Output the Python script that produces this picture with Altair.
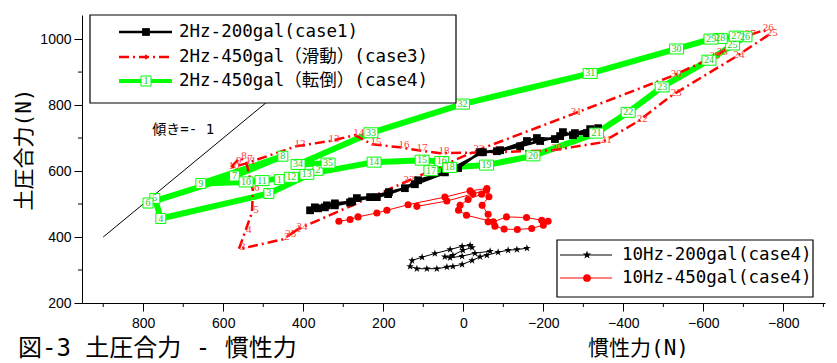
import altair as alt
import pandas as pd

# ---------------- axis ticks ----------------
x_ticks = [800, 600, 400, 200, 0, -200, -400, -600, -800]
x_minor = [900, 700, 500, 300, 100, -100, -300, -500, -700, -900]
y_ticks = [200, 400, 600, 800, 1000]
y_minor = [300, 500, 700, 900]

# ---------------- 2Hz-450gal (転倒)(case4) : green, numbered 1..35 ----------------
case4_x = [460, 363, 486, 756, 771, 788, 572, 451, 656, 543, 503, 430, 391, 223, 103, 54, 81, 34,
           -58, -174, -333, -412, -497, -614, -673, -704, -682, -642, -619, -533, -317, 2, 231, 413, 338]
case4_y = [574, 602, 532, 456, 517, 503, 585, 645, 562, 567, 571, 581, 590, 627, 633, 629, 601, 611,
           618, 646, 715, 778, 855, 936, 982, 1007, 1009, 1002, 1000, 970, 896, 803, 716, 620, 624]

# ---------------- 2Hz-450gal (滑動)(case3) : red dash-dot, numbered 1..35 ----------------
case3_x = [421, 451, 561, 546, 528, 526, 543, 558, 571, 583, 541, 418, 333, 271, 228, 158, 113, 58,
           -79, -224, -347, -437, -522, -679, -762, -752, -707, -637, -619, -522, -272, -29, 146, 413, 441]
case3_y = [417, 393, 363, 414, 475, 542, 630, 639, 624, 609, 624, 675, 691, 709, 681, 672, 663, 654,
           657, 663, 687, 751, 830, 945, 1012, 1027, 1009, 954, 942, 888, 772, 660, 566, 424, 402]

# ---------------- 2Hz-200gal(case1) : black squares ----------------
case1_x = [383, 363, 341, 321, 278, 266, 216, 188, 121, 13, -42, -92, -159, -184, -229, -249, -274, -309, -337,
           -317, -279, -242, -192, -142, -84, -49, 46, 113, 146, 186, 233, 283, 321, 346, 371]
case1_y = [481, 487, 496, 502, 508, 518, 521, 530, 560, 609, 657, 663, 691, 700, 697, 718, 709, 715, 730,
           727, 715, 706, 691, 675, 660, 657, 596, 572, 548, 536, 521, 505, 496, 490, 490]

# ---------------- 10Hz-200gal(case4) : black stars ----------------
hz10a_x = [-159, -134, -112, -87, -59, -42, -22, 3, 26, 41, 66, 91, 116, 133, 128, 103, 71, 33, 3, -17,
           -22, 1, 26, 46, 33, 3, -29, -67]
hz10a_y = [366, 362, 360, 354, 345, 340, 329, 317, 311, 309, 304, 304, 304, 311, 329, 339, 350, 362, 372, 375,
           368, 360, 345, 340, 337, 342, 351, 357]

# ---------------- 10Hz-450gal(case4) : red circles ----------------
hz10b_x = [311, 283, 263, 216, 191, 138, 46, -17, -59, -64, -47, -62, -62, -79, -102, -135, -171, -200,
           -212, -196, -158, -108, -75, -8, 12, 8, -12, -46, -58, -24, 41, 116]
hz10b_y = [448, 453, 461, 473, 481, 498, 521, 540, 547, 522, 496, 469, 446, 433, 424, 423, 426, 436,
           448, 451, 459, 461, 446, 466, 481, 496, 514, 530, 542, 531, 509, 493]

# slope reference line (傾き = -1)
slope_start = (900, 400)
slope_end = (450, 850)
slope_text_pos = (700, 724)

legend1 = ["2Hz-200gal(case1)", "2Hz-450gal（滑動）(case3)", "2Hz-450gal（転倒）(case4)"]
legend2 = ["10Hz-200gal(case4)", "10Hz-450gal(case4)"]

GREEN = "#00ff00"
RED = "#ff0000"
JP = "DejaVu Sans Mono, Noto Sans CJK JP"
SERIF = "Liberation Serif"
SANS = "Liberation Sans"
STAR = "M0,-1L0.2245,-0.309L0.951,-0.309L0.363,0.118L0.588,0.809L0,0.382L-0.588,0.809L-0.363,0.118L-0.951,-0.309L-0.2245,-0.309Z"
BOX1 = "M-1,-1H1V1H-1Z"
BOX2 = "M-1.4,-1H1.4V1H-1.4Z"

W, H = 743, 288

xscale = alt.Scale(domain=[-904, 953], reverse=True, nice=False, zero=False)
yscale = alt.Scale(domain=[200, 1073], nice=False, zero=False)
xaxis = alt.Axis(values=x_ticks, format="d", title="慣性力(N)", grid=False, tickSize=8, tickColor="black",
                 domainColor="black", labelColor="black", labelFont=SANS, labelFontSize=14,
                 labelPadding=5, labelFlush=False, labelOverlap=False,
                 titleFont=JP, titleFontSize=21, titleFontWeight="normal", titleColor="black",
                 titleX=556, titleY=45, titleAlign="center", titleBaseline="middle")
yaxis = alt.Axis(values=y_ticks, format="d", title="土圧合力(N)", grid=False, tickSize=8, tickColor="black",
                 domainColor="black", labelColor="black", labelFont=SANS, labelFontSize=14,
                 labelPadding=3, labelFlush=False, labelOverlap=False,
                 titleFont=JP, titleFontSize=21, titleFontWeight="normal", titleColor="black",
                 titleX=-58, titleY=134, titleAngle=270, titleAlign="center", titleBaseline="middle")


def X(f="x"):
    return alt.X(f"{f}:Q", scale=xscale, axis=xaxis)


def Y(f="y"):
    return alt.Y(f"{f}:Q", scale=yscale, axis=yaxis)


def frame(xs, ys):
    return pd.DataFrame({"x": xs, "y": ys, "i": list(range(len(xs))),
                         "lab": [str(k + 1) for k in range(len(xs))]})


g = frame(case4_x, case4_y)
r = frame(case3_x, case3_y)
b = frame(case1_x, case1_y)
s = frame(hz10a_x, hz10a_y)
c = frame(hz10b_x, hz10b_y)
one = pd.DataFrame({"d": [0]})

layers = []

# slope line and its annotation
sl = pd.DataFrame({"x": [slope_start[0]], "y": [slope_start[1]], "x2": [slope_end[0]], "y2": [slope_end[1]]})
layers.append(alt.Chart(sl).mark_rule(color="black", strokeWidth=1).encode(x=X(), y=Y(), x2="x2:Q", y2="y2:Q"))
st = pd.DataFrame({"x": [slope_text_pos[0]], "y": [slope_text_pos[1]], "t": ["傾き=- 1"]})
layers.append(alt.Chart(st).mark_text(font=JP, fontSize=14, color="black", baseline="middle", align="center")
              .encode(x=X(), y=Y(), text="t:N"))

# green thick line
layers.append(alt.Chart(g).mark_line(color=GREEN, strokeWidth=6, strokeJoin="round")
              .encode(x=X(), y=Y(), order="i:Q"))
# red dash-dot line
layers.append(alt.Chart(r).mark_line(color=RED, strokeWidth=2.5, strokeDash=[10, 4, 2, 4])
              .encode(x=X(), y=Y(), order="i:Q"))
layers.append(alt.Chart(r).mark_text(font=SERIF, fontSize=11, color="#ff4040", dx=4, dy=-2)
              .encode(x=X(), y=Y(), text="lab:N"))
# black case1
layers.append(alt.Chart(b).mark_line(color="black", strokeWidth=2.5)
              .encode(x=X(), y=Y(), order="i:Q"))
layers.append(alt.Chart(b).mark_point(shape="square", size=60, filled=True, color="black", opacity=1)
              .encode(x=X(), y=Y()))
# green boxes with numbers
layers.append(alt.Chart(g).transform_filter("length(datum.lab) == 1")
              .mark_point(shape=BOX1, size=100, filled=True, fill="white", stroke=GREEN, strokeWidth=1, opacity=1)
              .encode(x=X(), y=Y()))
layers.append(alt.Chart(g).transform_filter("length(datum.lab) == 2")
              .mark_point(shape=BOX2, size=100, filled=True, fill="white", stroke=GREEN, strokeWidth=1, opacity=1)
              .encode(x=X(), y=Y()))
layers.append(alt.Chart(g).mark_text(font=SERIF, fontSize=10, color="#22cc22", baseline="middle", align="center")
              .encode(x=X(), y=Y(), text="lab:N"))
# 10Hz series
layers.append(alt.Chart(s).mark_line(color="black", strokeWidth=1).encode(x=X(), y=Y(), order="i:Q"))
layers.append(alt.Chart(s).mark_point(shape=STAR, size=64, filled=True, color="black", opacity=1)
              .encode(x=X(), y=Y()))
layers.append(alt.Chart(c).mark_line(color=RED, strokeWidth=1).encode(x=X(), y=Y(), order="i:Q"))
layers.append(alt.Chart(c).mark_point(shape="circle", size=50, filled=True, color=RED, opacity=1)
              .encode(x=X(), y=Y()))

# minor ticks
layers.append(alt.Chart(pd.DataFrame({"v": x_minor})).mark_rule(color="black")
              .encode(x=X("v"), y=alt.value(H), y2=alt.value(H + 4)))
layers.append(alt.Chart(pd.DataFrame({"v": y_minor})).mark_rule(color="black")
              .encode(y=Y("v"), x=alt.value(-4), x2=alt.value(0)))


def pbox(x1, x2, y1, y2):
    return alt.Chart(one).mark_rect(fill="white", stroke="black", strokeWidth=1.2).encode(
        x=alt.value(x1), x2=alt.value(x2), y=alt.value(y1), y2=alt.value(y2))


def pline(x1, x2, y, color, width, dash=None):
    kw = dict(color=color, strokeWidth=width)
    if dash:
        kw["strokeDash"] = dash
    return alt.Chart(one).mark_rule(**kw).encode(x=alt.value(x1), x2=alt.value(x2), y=alt.value(y))


def ptext(t, x, y, size, font=JP, color="black", align="left"):
    return alt.Chart(one).mark_text(text=t, font=font, fontSize=size, color=color, align=align,
                                    baseline="middle").encode(x=alt.value(x), y=alt.value(y))


def pmark(x, y, **kw):
    return alt.Chart(one).mark_point(opacity=1, **kw).encode(x=alt.value(x), y=alt.value(y))


# legend 1
ly = [17, 42, 66]
layers.append(pbox(8, 374, 0, 88))
layers.append(pline(37, 90, ly[0], "black", 2.5))
layers.append(pmark(64, ly[0], shape="square", size=60, filled=True, color="black"))
layers.append(pline(37, 90, ly[1], RED, 2.5, [10, 4, 2, 4]))
layers.append(pmark(64, ly[1], shape="cross", size=20, filled=True, color=RED))
layers.append(pline(37, 90, ly[2], GREEN, 4))
layers.append(pmark(64, ly[2], shape=BOX1, size=100, filled=True, fill="white", stroke=GREEN, strokeWidth=1))
layers.append(ptext("1", 64, ly[2], 10, font=SERIF, color="#22cc22", align="center"))
for t, yy in zip(legend1, ly):
    layers.append(ptext(t, 97, yy, 17.5))

# legend 2
ly2 = [240, 263]
layers.append(pbox(475, 731, 225, 282))
layers.append(pline(478, 530, ly2[0], "black", 1))
layers.append(pmark(505, ly2[0], shape=STAR, size=80, filled=True, color="black"))
layers.append(pline(478, 530, ly2[1], RED, 1))
layers.append(pmark(505, ly2[1], shape="circle", size=60, filled=True, color=RED))
for t, yy in zip(legend2, ly2):
    layers.append(ptext(t, 540, yy, 17.5))

# figure caption
layers.append(ptext("図-3 土圧合力 - 慣性力", -64, 334, 24))

chart = alt.layer(*layers).properties(
    width=W, height=H,
    autosize=alt.AutoSizeParams(type="none"),
    padding={"left": 74, "top": 7, "right": 4, "bottom": 60},
).configure_view(strokeWidth=0)

chart.save("out.html", embed_options={"renderer": "svg", "actions": False})
